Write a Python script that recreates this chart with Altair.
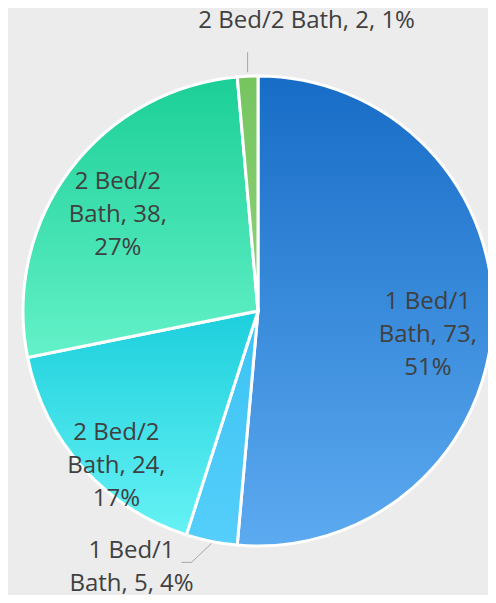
import math
import altair as alt
import pandas as pd

categories = ["1 Bed/1 Bath", "1 Bed/1 Bath", "2 Bed/2 Bath", "2 Bed/2 Bath", "2 Bed/2 Bath"]
values = [73, 5, 24, 38, 2]
percents = ["51%", "4%", "17%", "27%", "1%"]
label_lines = [
    ["1 Bed/1", "Bath, 73,", "51%"],
    ["1 Bed/1", "Bath, 5, 4%"],
    ["2 Bed/2", "Bath, 24,", "17%"],
    ["2 Bed/2", "Bath, 38,", "27%"],
    ["2 Bed/2 Bath, 2, 1%"],
]
top_colors = ["#176cc6", "#3cc3f2", "#1ccfdc", "#1bcf96", "#76c55f"]
bottom_colors = ["#5caaf0", "#55cefb", "#66f2f5", "#64f1c9", "#8dd27a"]

total = sum(values)
starts, ends = [], []
acc = 0
for v in values:
    starts.append(acc)
    acc += v
    ends.append(acc)

df = pd.DataFrame({
    "idx": list(range(len(values))),
    "category": categories,
    "value": values,
    "pct": percents,
    "label": label_lines,
    "start": starts,
    "end": ends,
})

CX, CY, R = 250, 303, 235
W, H = 480, 587
FONT = "Open Sans"
TXT = "#404040"
LH = 33

theta_scale = alt.Scale(domain=[0, total], range=[0, 2 * math.pi])

layers = []
for i in range(len(values)):
    grad = alt.Gradient(
        gradient="linear",
        stops=[alt.GradientStop(color=top_colors[i], offset=0),
               alt.GradientStop(color=bottom_colors[i], offset=1)],
        x1=0, x2=0, y1=0, y2=1,
    )
    layers.append(
        alt.Chart(df)
        .transform_filter(alt.datum.idx == i)
        .mark_arc(outerRadius=R, fill=grad, stroke="white", strokeWidth=3)
        .encode(
            theta=alt.Theta("start:Q", scale=theta_scale),
            theta2="end:Q",
            x=alt.value(CX),
            y=alt.value(CY),
        )
    )

mid = f"((datum.start + datum.end) / 2 / {total} * 2 * PI)"


def label_layer(i, r, dx=0, dy=0):
    n = len(label_lines[i])
    return (
        alt.Chart(df)
        .transform_filter(alt.datum.idx == i)
        .transform_calculate(
            lx=f"{CX} + {r} * sin({mid})",
            ly=f"{CY} - {r} * cos({mid})",
        )
        .mark_text(font=FONT, fontSize=24, color=TXT, align="center",
                   baseline="middle", lineHeight=LH, dx=dx,
                   dy=dy - LH * (n - 1) / 2)
        .encode(
            x=alt.X("lx:Q", scale=None),
            y=alt.Y("ly:Q", scale=None),
            text="label",
        )
    )


texts = [
    label_layer(0, 170, dy=16),
    label_layer(2, 190, dy=28),
    label_layer(3, 175, dy=9),
    label_layer(1, 235, dx=-80, dy=26),
    label_layer(4, 235, dx=59, dy=-55),
]

# leader lines
lead_top = (
    alt.Chart(df)
    .transform_filter(alt.datum.idx == 4)
    .transform_calculate(
        x1=f"{CX} + {R} * sin({mid})",
        y1=f"{CY} - {R} * cos({mid}) - 4",
        y2=f"{CY} - {R} * cos({mid}) - 24",
    )
    .mark_rule(color="#a6a6a6", strokeWidth=1)
    .encode(x=alt.X("x1:Q", scale=None), y=alt.Y("y1:Q", scale=None), y2="y2:Q")
)

lead_bot_data = (
    alt.Chart(df)
    .transform_filter(alt.datum.idx == 1)
    .transform_calculate(
        ex=f"{CX} + {R} * sin({mid})",
        ey=f"{CY} - {R} * cos({mid}) + 2",
    )
    .transform_calculate(kx="datum.ex - 20", ky="datum.ey + 19", hx="datum.ex - 30")
)
lead_bot1 = lead_bot_data.mark_rule(color="#a6a6a6", strokeWidth=1).encode(
    x=alt.X("ex:Q", scale=None), y=alt.Y("ey:Q", scale=None), x2="kx:Q", y2="ky:Q"
)
lead_bot2 = lead_bot_data.mark_rule(color="#a6a6a6", strokeWidth=1).encode(
    x=alt.X("kx:Q", scale=None), y=alt.Y("ky:Q", scale=None), x2="hx:Q", y2="ky:Q"
)

chart = (
    alt.layer(*layers, lead_top, lead_bot1, lead_bot2, *texts)
    .properties(width=W, height=H, background="#ececec", padding=0,
                autosize=alt.AutoSizeParams(type="none"))
    .configure_view(stroke=None)
)

chart.save("out.html", embed_options={"renderer": "svg", "actions": False})
